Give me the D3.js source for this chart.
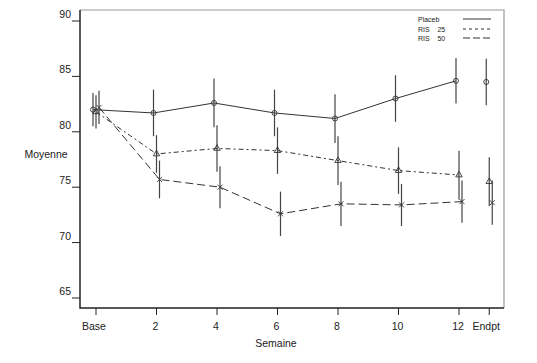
<!DOCTYPE html>
<html>
<head>
<meta charset="utf-8">
<script src="https://cdn.jsdelivr.net/npm/d3@7"></script>
<style>
  body { margin: 0; background: #fff; }
  text { font-family: "Liberation Sans", Arial, sans-serif; fill: #222; }
</style>
</head>
<body>
<div id="chart"></div>
<script>
// Weeks (Endpt drawn at 13)
const weeks = [0, 2, 4, 6, 8, 10, 12, 13];
const weekLabels = ["Base", "2", "4", "6", "8", "10", "12", "Endpt"];
const yTicks = [65, 70, 75, 80, 85, 90];

const placeboMean = [82.0, 81.7, 82.6, 81.7, 81.2, 83.0, 84.6, 84.5];
const placeboErr  = [1.5, 2.1, 2.2, 2.1, 2.2, 2.1, 2.05, 2.1];
const ris25Mean   = [81.8, 78.0, 78.5, 78.3, 77.4, 76.5, 76.1, 75.5];
const ris25Err    = [1.5, 1.7, 2.1, 2.1, 2.2, 2.1, 2.2, 2.2];
const ris50Mean   = [82.2, 75.7, 75.0, 72.6, 73.5, 73.4, 73.7, 73.6];
const ris50Err    = [1.5, 1.7, 1.9, 2.0, 2.0, 1.9, 1.9, 2.0];

const seriesNames = ["Placeb", "RIS    25", "RIS    50"];

function init() {
    const width = 537, height = 363;
    const left = 80, right = 504, top = 10, bottom = 308;

    const svg = d3.select("#chart").append("svg")
        .attr("width", width).attr("height", height);

    const x = d3.scaleLinear().domain([0, 12]).range([96, 459]);
    const y = d3.scaleLinear().domain([65, 90]).range([298, 21]);

    // Frame: light top/right, dark left/bottom
    svg.append("path")
        .attr("d", `M${left},${top}H${right}V${bottom}`)
        .attr("fill", "none").attr("stroke", "#999").attr("stroke-width", 1.2);
    svg.append("path")
        .attr("d", `M${left},${top}V${bottom}H${right}`)
        .attr("fill", "none").attr("stroke", "#222").attr("stroke-width", 1.5);

    // Y axis ticks and labels (labels sit a little above the tick)
    const yAxis = svg.append("g");
    yAxis.selectAll("line").data(yTicks).enter().append("line")
        .attr("x1", left - 8).attr("x2", left)
        .attr("y1", d => y(d)).attr("y2", d => y(d))
        .attr("stroke", "#222");
    yAxis.selectAll("text").data(yTicks).enter().append("text")
        .attr("x", 71).attr("y", d => y(d) - 3)
        .attr("text-anchor", "end").attr("font-size", 10.5)
        .text(d => d);

    // X axis ticks and labels
    const xAxis = svg.append("g");
    xAxis.selectAll("line").data(weeks).enter().append("line")
        .attr("x1", d => x(d)).attr("x2", d => x(d))
        .attr("y1", bottom).attr("y2", bottom + 7)
        .attr("stroke", "#222");
    xAxis.selectAll("text").data(weeks).enter().append("text")
        .attr("x", (d, i) => x(d) + (i === 0 ? -2 : (i === 7 ? -3 : -1)))
        .attr("y", 330)
        .attr("text-anchor", "middle").attr("font-size", 10.5)
        .text((d, i) => weekLabels[i]);

    svg.append("text").attr("x", 276).attr("y", 347)
        .attr("text-anchor", "middle").attr("font-size", 10.5).text("Semaine");
    svg.append("text").attr("x", 46).attr("y", 158)
        .attr("text-anchor", "middle").attr("font-size", 10.5).text("Moyenne");

    const series = [
        { mean: placeboMean, err: placeboErr, dx: -3, dash: null, marker: "circle" },
        { mean: ris25Mean, err: ris25Err, dx: 0, dash: "5,3,2,3", marker: "triangle" },
        { mean: ris50Mean, err: ris50Err, dx: 3, dash: "8,4", marker: "cross" }
    ];

    const stroke = "#333";

    series.forEach(s => {
        const pts = weeks.map((w, i) => ({ w: w, v: s.mean[i], e: s.err[i] }));
        const g = svg.append("g");

        // connecting line (Base to week 12 only)
        const line = d3.line().x(d => x(d.w) + s.dx).y(d => y(d.v));
        g.append("path").datum(pts.slice(0, 7))
            .attr("d", line)
            .attr("fill", "none").attr("stroke", stroke).attr("stroke-width", 1)
            .attr("stroke-dasharray", s.dash);

        // error bars
        g.selectAll(".err").data(pts).enter().append("line")
            .attr("x1", d => x(d.w) + s.dx).attr("x2", d => x(d.w) + s.dx)
            .attr("y1", d => y(d.v + d.e)).attr("y2", d => y(d.v - d.e))
            .attr("stroke", "#444").attr("stroke-width", 1.2);

        // markers
        const m = g.selectAll(".mk").data(pts).enter().append("path")
            .attr("transform", d => `translate(${x(d.w) + s.dx},${y(d.v)})`)
            .attr("fill", "none").attr("stroke", stroke).attr("stroke-width", 0.9);
        if (s.marker === "circle") m.attr("d", d3.symbol(d3.symbolCircle, 20)());
        else if (s.marker === "triangle") m.attr("d", d3.symbol(d3.symbolTriangle, 18)());
        else m.attr("d", "M-2.5,-2.5L2.5,2.5M-2.5,2.5L2.5,-2.5");
    });

    // Legend
    const legend = svg.append("g");
    const ly = [19, 29, 38];
    legend.selectAll("text").data(seriesNames).enter().append("text")
        .attr("x", 418).attr("y", (d, i) => ly[i] + 2.5)
        .attr("font-size", 7).attr("xml:space", "preserve")
        .style("white-space", "pre")
        .text(d => d);
    legend.selectAll("line").data(series).enter().append("line")
        .attr("x1", 463).attr("x2", 491)
        .attr("y1", (d, i) => ly[i]).attr("y2", (d, i) => ly[i])
        .attr("stroke", stroke).attr("stroke-width", 1)
        .attr("stroke-dasharray", d => d.dash === null ? null : (d.dash === "8,4" ? "7,3" : "3,3"));
}

init();
</script>
</body>
</html>
